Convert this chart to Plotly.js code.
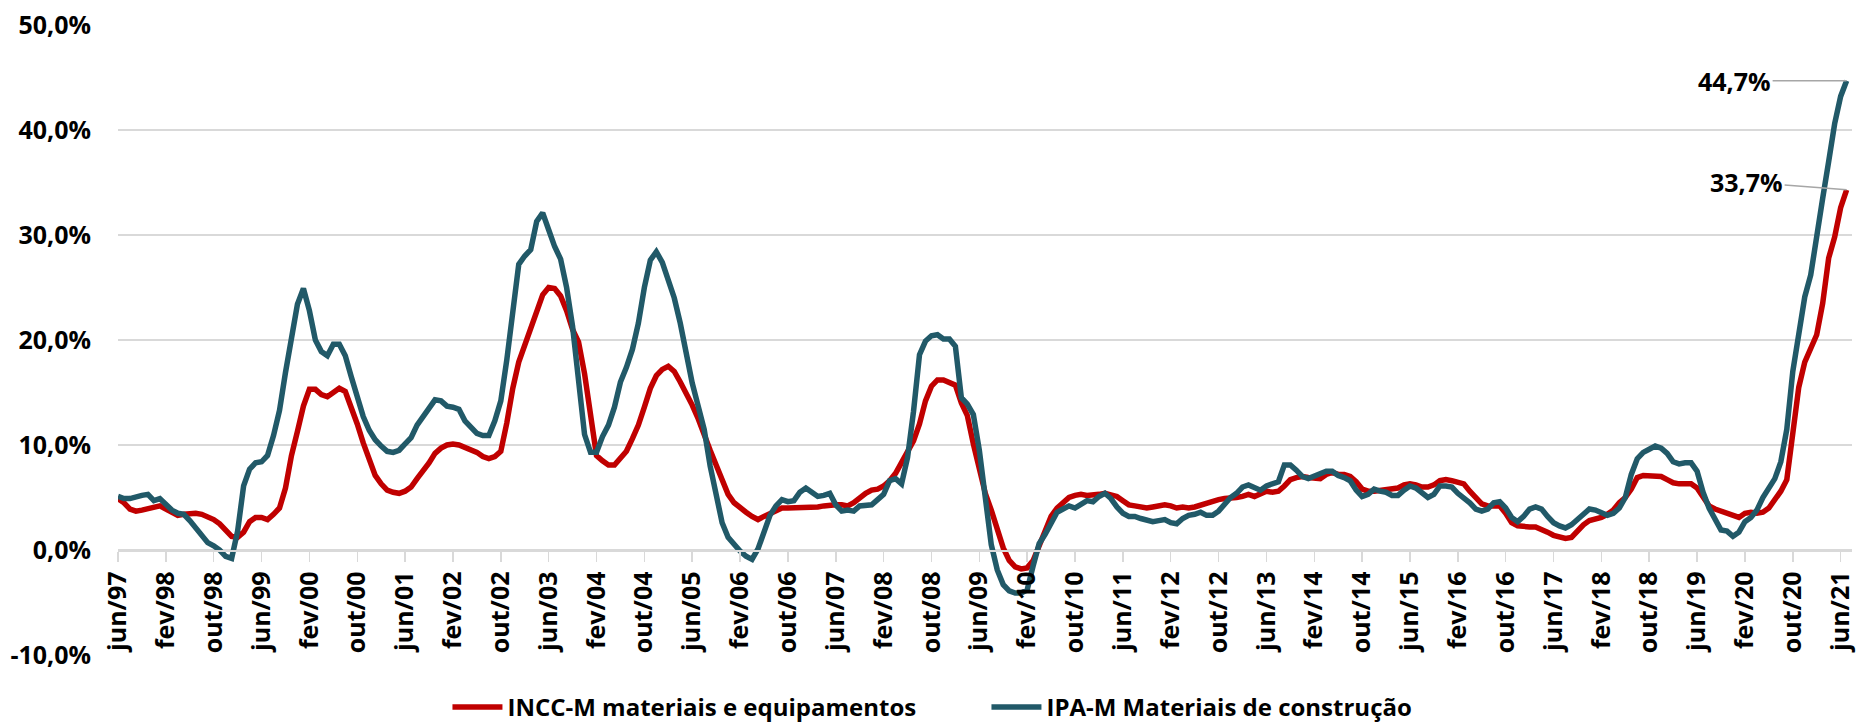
<!DOCTYPE html>
<html>
<head>
<meta charset="utf-8">
<script src="https://cdn.plot.ly/plotly-3.0.1.min.js"></script>
<style>
html, body { margin: 0; padding: 0; background: #ffffff; }
#chart { width: 1860px; height: 727px; }
</style>
</head>
<body>
<div id="chart"></div>
<script>
// Month names (pt-BR) used to build the monthly categories jun/97 .. jul/21
const monthNames = ['jan','fev','mar','abr','mai','jun','jul','ago','set','out','nov','dez'];
const startMonth = 5;   // jun
const startYear = 1997;
const nPoints = 290;

// INCC-M materiais e equipamentos (% em 12 meses)
const incc = [
  4.9, 4.5, 3.9, 3.7, 3.8, 3.9, 4.1, 4.2, 3.9, 3.6,
  3.3, 3.4, 3.5, 3.5, 3.4, 3.2, 2.9, 2.5, 1.9, 1.3,
  1.2, 1.7, 2.7, 3.1, 3.1, 2.9, 3.4, 4.0, 5.9, 9.0,
  11.3, 13.7, 15.3, 15.3, 14.8, 14.6, 15.0, 15.4, 15.1, 13.6,
  12.0, 10.2, 8.6, 7.1, 6.3, 5.7, 5.5, 5.4, 5.6, 6.0,
  6.8, 7.5, 8.3, 9.2, 9.7, 10.0, 10.1, 10.0, 9.8, 9.6,
  9.3, 8.9, 8.7, 8.9, 9.4, 12.1, 15.4, 17.9, 19.5, 21.1,
  22.6, 24.3, 25.0, 24.9, 24.2, 22.8, 21.0, 19.8, 16.8, 12.5,
  9.0, 8.5, 8.1, 8.1, 8.7, 9.4, 10.6, 11.9, 13.6, 15.4,
  16.6, 17.2, 17.5, 17.0, 16.0, 15.0, 13.8, 12.5, 10.9, 9.5,
  8.1, 6.6, 5.3, 4.5, 4.0, 3.6, 3.2, 2.9, 3.2, 3.5,
  3.8, 4.0, 4.0, 4.0, 4.1, 4.1, 4.1, 4.1, 4.2, 4.3,
  4.3, 4.3, 4.2, 4.5, 5.0, 5.4, 5.7, 5.8, 6.1, 6.6,
  7.3, 8.3, 9.2, 10.4, 12.0, 14.2, 15.6, 16.2, 16.2, 15.9,
  15.7, 14.0, 12.8, 10.1, 7.5, 5.4, 3.8, 2.0, 0.2, -1.0,
  -1.6, -1.8, -1.7, -1.0, 0.4, 1.9, 3.2, 4.0, 4.5, 5.0,
  5.2, 5.3, 5.2, 5.2, 5.3, 5.4, 5.2, 5.1, 4.7, 4.3,
  4.2, 4.1, 4.0, 4.1, 4.2, 4.3, 4.2, 4.0, 4.1, 4.0,
  4.1, 4.3, 4.5, 4.6, 4.8, 4.9, 4.9, 5.0, 5.1, 5.3,
  5.1, 5.3, 5.6, 5.5, 5.6, 6.1, 6.7, 6.9, 7.0, 6.9,
  6.8, 6.8, 7.2, 7.4, 7.2, 7.2, 7.0, 6.5, 5.8, 5.6,
  5.6, 5.7, 5.8, 5.8, 5.9, 6.2, 6.3, 6.2, 6.0, 6.0,
  6.2, 6.6, 6.7, 6.6, 6.5, 6.3, 5.6, 4.9, 4.4, 4.2,
  4.2, 4.2, 3.5, 2.6, 2.3, 2.2, 2.2, 2.2, 2.0, 1.7,
  1.4, 1.2, 1.1, 1.2, 1.8, 2.4, 2.8, 2.9, 3.1, 3.4,
  3.8, 4.5, 5.0, 5.8, 6.9, 7.1, 7.1, 7.0, 7.0, 6.7,
  6.4, 6.3, 6.3, 6.3, 5.9, 5.1, 4.2, 3.9, 3.7, 3.5,
  3.2, 3.1, 3.5, 3.6, 3.5, 3.6, 4.0, 4.8, 5.6, 6.7,
  10.7, 15.5, 17.9, 19.3, 20.5, 23.5, 27.8, 29.8, 32.6, 34.3
];

// IPA-M Materiais de construção (% em 12 meses)
const ipa = [
  5.1, 4.9, 4.9, 5.1, 5.2, 5.3, 4.7, 4.9, 4.3, 3.8,
  3.5, 3.4, 2.8, 2.1, 1.6, 0.7, 0.4, 0.0, -0.6, -0.8,
  1.8, 6.1, 7.7, 8.3, 8.4, 9.0, 10.9, 13.3, 16.9, 20.2,
  23.4, 24.9, 22.8, 20.0, 18.9, 18.5, 19.6, 19.6, 18.5, 16.5,
  14.7, 12.7, 11.4, 10.5, 9.9, 9.4, 9.3, 9.5, 10.1, 10.7,
  11.9, 12.7, 13.6, 14.3, 14.2, 13.7, 13.6, 13.4, 12.3, 11.6,
  11.1, 10.9, 10.9, 12.3, 14.2, 18.1, 23.0, 27.2, 28.0, 28.6,
  31.3, 32.1, 30.5, 28.9, 27.7, 25.0, 21.3, 16.0, 11.0, 9.3,
  9.3, 10.8, 11.9, 13.6, 16.0, 17.4, 19.1, 21.6, 25.0, 27.6,
  28.4, 27.4, 25.8, 24.0, 21.6, 18.4, 15.9, 13.7, 11.5, 8.0,
  5.2, 2.6, 1.2, 0.5, -0.1, -0.6, -0.9, 0.1, 1.9, 3.3,
  4.2, 4.8, 4.6, 4.7, 5.5, 5.9, 5.5, 5.1, 5.2, 5.4,
  4.3, 3.7, 3.8, 3.7, 4.2, 4.3, 4.3, 4.8, 5.3, 6.6,
  6.8, 6.3, 8.8, 13.2, 18.6, 19.9, 20.4, 20.5, 20.1, 20.1,
  19.4, 14.5, 13.9, 12.9, 9.5, 5.0, 0.5, -1.9, -3.3, -3.9,
  -4.1, -4.1, -3.8, -1.5, 0.6, 1.5, 2.6, 3.6, 3.9, 4.2,
  4.0, 4.4, 4.7, 4.6, 5.1, 5.4, 4.9, 4.1, 3.5, 3.2,
  3.2, 3.0, 2.9, 2.7, 2.8, 2.9, 2.6, 2.5, 3.0, 3.3,
  3.4, 3.6, 3.3, 3.3, 3.7, 4.4, 5.0, 5.4, 6.0, 6.2,
  6.0, 5.7, 6.1, 6.3, 6.5, 8.1, 8.1, 7.6, 7.0, 6.8,
  7.0, 7.2, 7.5, 7.5, 7.1, 6.9, 6.6, 5.7, 5.1, 5.3,
  5.8, 5.6, 5.5, 5.2, 5.2, 5.7, 6.1, 5.9, 5.4, 5.0,
  5.3, 6.1, 6.1, 6.0, 5.4, 5.0, 4.5, 3.9, 3.7, 3.9,
  4.5, 4.6, 4.0, 3.1, 2.7, 3.2, 3.9, 4.1, 3.9, 3.2,
  2.6, 2.3, 2.1, 2.4, 2.9, 3.5, 3.9, 3.8, 3.5, 3.3,
  3.5, 4.0, 5.0, 7.2, 8.7, 9.3, 9.6, 9.9, 9.7, 9.2,
  8.4, 8.2, 8.3, 8.3, 7.5, 5.5, 4.0, 2.8, 1.9, 1.8,
  1.3, 1.7, 2.7, 3.1, 3.8, 5.0, 6.0, 6.8, 8.4, 11.5,
  17.0, 20.6, 24.1, 26.2, 29.5, 33.5, 37.0, 40.6, 43.2, 44.7
];

// x-axis tick labels (every 8 months)
const xTickLabels = [
  'jun/97','fev/98','out/98','jun/99','fev/00','out/00','jun/01','fev/02','out/02',
  'jun/03','fev/04','out/04','jun/05','fev/06','out/06','jun/07','fev/08','out/08',
  'jun/09','fev/10','out/10','jun/11','fev/12','out/12','jun/13','fev/14','out/14',
  'jun/15','fev/16','out/16','jun/17','fev/18','out/18','jun/19','fev/20','out/20','jun/21'
];

// y-axis ticks
const yTickValues = [-10, 0, 10, 20, 30, 40, 50];
const yTickLabels = ['-10,0%', '0,0%', '10,0%', '20,0%', '30,0%', '40,0%', '50,0%'];

// End labels
const inccEndLabel = '33,7%';
const ipaEndLabel = '44,7%';

// Build monthly categories
const months = [];
for (let i = 0; i < nPoints; i++) {
  const mi = (startMonth + i) % 12;
  const yr = startYear + Math.floor((startMonth + i) / 12);
  months.push(monthNames[mi] + '/' + String(yr % 100).padStart(2, '0'));
}

const RED = '#C00000';
const TEAL = '#215968';
const GRID = '#d9d9d9';
const FONT = 'Open Sans, Noto Sans, sans-serif';

const traces = [
  {
    x: months, y: incc, type: 'scatter', mode: 'lines',
    name: 'INCC-M materiais e equipamentos',
    line: { color: RED, width: 5.5 }
  },
  {
    x: months, y: ipa, type: 'scatter', mode: 'lines',
    name: 'IPA-M Materiais de construção',
    line: { color: TEAL, width: 5.5 }
  }
];

const last = nPoints - 1;

const layout = {
  width: 1860, height: 727,
  margin: { l: 118, r: 8, t: 25, b: 72, pad: 0, autoexpand: false },
  paper_bgcolor: '#ffffff',
  plot_bgcolor: '#ffffff',
  font: { family: FONT, color: '#000000', size: 25, weight: 700 },
  showlegend: true,
  hovermode: false,
  xaxis: {
    type: 'category',
    range: [0, 289.9],
    anchor: 'free',
    position: 10 / 60,
    showgrid: false,
    zeroline: false,
    showline: true,
    linecolor: GRID,
    linewidth: 1.5,
    ticks: 'outside',
    ticklen: 10,
    tickwidth: 1.5,
    tickcolor: GRID,
    tickmode: 'array',
    tickvals: xTickLabels,
    ticktext: xTickLabels,
    tickangle: -90,
    tickfont: { family: FONT, size: 25, weight: 700, color: '#000000' },
    automargin: false,
    fixedrange: true
  },
  yaxis: {
    range: [-10, 50],
    showgrid: true,
    gridcolor: GRID,
    gridwidth: 1.5,
    zeroline: false,
    showline: false,
    ticks: '',
    tickmode: 'array',
    tickvals: yTickValues,
    ticktext: yTickLabels,
    ticklabelstandoff: 26,
    tickfont: { family: FONT, size: 25, weight: 700, color: '#000000' },
    automargin: false,
    fixedrange: true
  },
  legend: {
    orientation: 'h',
    x: 0.19, xanchor: 'left',
    y: -0.083, yanchor: 'middle',
    font: { family: FONT, size: 24, weight: 700, color: '#000000' },
    entrywidth: 474, entrywidthmode: 'pixels',
    itemwidth: 50,
    traceorder: 'normal',
    bgcolor: 'rgba(0,0,0,0)'
  },
  annotations: [
    {
      x: months[last], y: ipa[last], xref: 'x', yref: 'y',
      text: ipaEndLabel,
      showarrow: true, arrowhead: 0, arrowwidth: 1.5, arrowcolor: '#a6a6a6',
      ax: -112, ay: 0, standoff: 0,
      font: { family: FONT, size: 25, weight: 700, color: '#000000' }
    },
    {
      x: months[last], y: incc[last], xref: 'x', yref: 'y',
      text: inccEndLabel,
      showarrow: true, arrowhead: 0, arrowwidth: 1.5, arrowcolor: '#a6a6a6',
      ax: -100, ay: -8, standoff: 0,
      font: { family: FONT, size: 25, weight: 700, color: '#000000' }
    }
  ]
};

Plotly.newPlot('chart', traces, layout, { displayModeBar: false, staticPlot: true });
</script>
</body>
</html>
